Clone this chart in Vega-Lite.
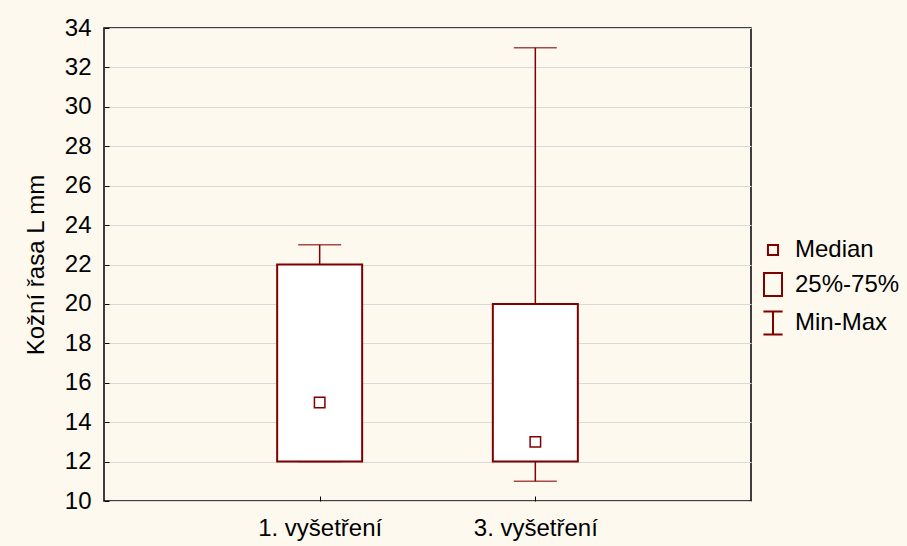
{
  "$schema": "https://vega.github.io/schema/vega-lite/v6.json",
  "autosize": {"type": "none"},
  "width": 647,
  "height": 473,
  "padding": {"left": 104, "top": 28, "right": 156, "bottom": 45},
  "background": "#FDF9EF",
  "config": {
    "view": {"stroke": "#000000", "strokeWidth": 1.5, "fill": "#FFFFFF"},
    "font": "Liberation Sans",
    "axisY": {"titleFontSize": 24, "titleFontWeight": "normal", "titleColor": "#000", "titlePadding": 16, "labelFontSize": 24, "labelColor": "#000", "labelOverlap": false, "labelBound": false, "labelFlush": false, "tickSize": -5, "tickColor": "#000", "labelPadding": 18, "domain": false, "gridColor": "#D9D9D9", "gridWidth": 1.2},
    "axisX": {"labelFontSize": 24, "labelColor": "#000", "labelAngle": 0, "labelOverlap": false, "tickSize": -5, "tickColor": "#000", "labelPadding": 20, "domain": false, "grid": false}
  },
  "datasets": {
    "stats": [
      {"exam": "1. vyšetření", "min": 12, "q1": 12, "median": 15, "q3": 22, "max": 23},
      {"exam": "3. vyšetření", "min": 11, "q1": 12, "median": 13, "q3": 20, "max": 33}
    ],
    "legendItems": [
      {"item": "Median"},
      {"item": "25%-75%"},
      {"item": "Min-Max"}
    ]
  },
  "layer": [
    {
      "data": {"name": "stats"},
      "mark": {"type": "rule", "color": "#800000", "strokeWidth": 1.5},
      "encoding": {
        "x": {"field": "exam", "type": "nominal", "scale": {"type": "point", "padding": 1}, "axis": {"title": null}},
        "y": {"field": "min", "type": "quantitative", "scale": {"domain": [10, 34], "nice": false, "zero": false},
              "axis": {"title": "Kožní řasa L mm", "values": [10,12,14,16,18,20,22,24,26,28,30,32,34], "tickCount": 30}},
        "y2": {"field": "q1"}
      }
    },
    {
      "data": {"name": "stats"},
      "mark": {"type": "rule", "color": "#800000", "strokeWidth": 1.5},
      "encoding": {
        "x": {"field": "exam", "type": "nominal", "scale": {"type": "point", "padding": 1}, "axis": {"title": null}},
        "y": {"field": "q3", "type": "quantitative", "scale": {"domain": [10, 34], "nice": false, "zero": false},
              "axis": {"title": "Kožní řasa L mm", "values": [10,12,14,16,18,20,22,24,26,28,30,32,34], "tickCount": 30}},
        "y2": {"field": "max"}
      }
    },
    {
      "data": {"name": "stats"},
      "mark": {"type": "tick", "color": "#800000", "size": 43, "thickness": 1.5},
      "encoding": {
        "x": {"field": "exam", "type": "nominal", "scale": {"type": "point", "padding": 1}, "axis": {"title": null}},
        "y": {"field": "min", "type": "quantitative", "scale": {"domain": [10, 34], "nice": false, "zero": false},
              "axis": {"title": "Kožní řasa L mm", "values": [10,12,14,16,18,20,22,24,26,28,30,32,34], "tickCount": 30}}
      }
    },
    {
      "data": {"name": "stats"},
      "mark": {"type": "tick", "color": "#800000", "size": 43, "thickness": 1.5},
      "encoding": {
        "x": {"field": "exam", "type": "nominal", "scale": {"type": "point", "padding": 1}, "axis": {"title": null}},
        "y": {"field": "max", "type": "quantitative", "scale": {"domain": [10, 34], "nice": false, "zero": false},
              "axis": {"title": "Kožní řasa L mm", "values": [10,12,14,16,18,20,22,24,26,28,30,32,34], "tickCount": 30}}
      }
    },
    {
      "data": {"name": "stats"},
      "mark": {"type": "bar", "size": 85, "fill": "#FFFFFF", "stroke": "#800000", "strokeWidth": 2},
      "encoding": {
        "x": {"field": "exam", "type": "nominal", "scale": {"type": "point", "padding": 1}, "axis": {"title": null}},
        "y": {"field": "q1", "type": "quantitative", "scale": {"domain": [10, 34], "nice": false, "zero": false},
              "axis": {"title": "Kožní řasa L mm", "values": [10,12,14,16,18,20,22,24,26,28,30,32,34], "tickCount": 30}},
        "y2": {"field": "q3"}
      }
    },
    {
      "data": {"name": "stats"},
      "mark": {"type": "point", "shape": "square", "size": 110, "filled": false, "color": "#800000", "strokeWidth": 1.5, "opacity": 1},
      "encoding": {
        "x": {"field": "exam", "type": "nominal", "scale": {"type": "point", "padding": 1}, "axis": {"title": null}},
        "y": {"field": "median", "type": "quantitative", "scale": {"domain": [10, 34], "nice": false, "zero": false},
              "axis": {"title": "Kožní řasa L mm", "values": [10,12,14,16,18,20,22,24,26,28,30,32,34], "tickCount": 30}}
      }
    },
    {
      "data": {"name": "legendItems"},
      "mark": {"type": "point", "filled": false, "opacity": 0, "color": "#800000"},
      "encoding": {
        "shape": {
          "field": "item", "type": "nominal",
          "scale": {
            "domain": ["Median", "25%-75%", "Min-Max"],
            "range": [
              "M-0.42,-0.42H0.42V0.42H-0.42Z",
              "M-0.75,-0.95H0.75V0.95H-0.75Z",
              "M-0.8,-0.95H0.8M0,-0.95V0.95M-0.8,0.95H0.8"
            ]
          },
          "legend": {
            "title": null,
            "orient": "none",
            "legendX": 656,
            "legendY": 209,
            "symbolSize": 576,
            "symbolOpacity": 1,
            "symbolStrokeColor": "#800000",
            "symbolFillColor": "transparent",
            "symbolStrokeWidth": 2,
            "labelFontSize": 24,
            "labelColor": "#000",
            "labelOffset": 9,
            "rowPadding": 6.5,
            "padding": 0
          }
        }
      }
    }
  ]
}
